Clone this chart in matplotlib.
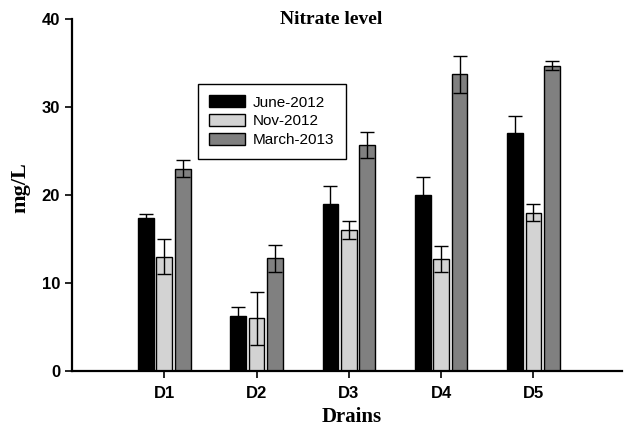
import numpy as np
import matplotlib
matplotlib.use('Agg')
import matplotlib.pyplot as plt

DRAINS = ['D1', 'D2', 'D3', 'D4', 'D5']
SERIES = ['June-2012', 'Nov-2012', 'March-2013']
june = [17.4, 6.3, 19.0, 20.0, 27.0]
june_err = [0.4, 1.0, 2.0, 2.0, 2.0]
nov = [13.0, 6.0, 16.0, 12.7, 18.0]
nov_err = [2.0, 3.0, 1.0, 1.5, 1.0]
march = [23.0, 12.8, 25.7, 33.7, 34.7]
march_err = [1.0, 1.5, 1.5, 2.1, 0.5]
COLORS = ['#000000', '#d3d3d3', '#808080']

fig = plt.figure(figsize=(6.25, 4.29), dpi=100)
ax = fig.add_axes([0.1152, 0.1352, 0.880, 0.8205])

x = np.arange(1, len(DRAINS) + 1)
w = 0.17
offs = [-0.2, 0.0, 0.2]
vals = [june, nov, march]
errs = [june_err, nov_err, march_err]
for i in range(3):
    ax.bar(x + offs[i], vals[i], w, color=COLORS[i], edgecolor='black',
           linewidth=1.0, label=SERIES[i], zorder=2)
    ax.errorbar(x + offs[i], vals[i], yerr=errs[i], fmt='none', ecolor='black',
                elinewidth=1.0, capsize=4.8, capthick=1.0, zorder=3)

ax.set_xlim(0, 5.96)
ax.set_ylim(0, 40)
ax.set_yticks([0, 10, 20, 30, 40])
ax.set_xticks(x)
ax.set_xticklabels(DRAINS)
for s in ['top', 'right']:
    ax.spines[s].set_visible(False)
for s in ['left', 'bottom']:
    ax.spines[s].set_linewidth(1.6)
ax.tick_params(axis='both', direction='out', length=5, width=1.2)
ax.tick_params(axis='x', pad=6)
for lab in ax.get_xticklabels() + ax.get_yticklabels():
    lab.set_fontfamily('Liberation Sans')
    lab.set_fontweight('bold')
    lab.set_fontsize(12)

ax.set_ylabel('mg/L', fontfamily='Liberation Serif', fontweight='bold', fontsize=16)
ax.yaxis.set_label_coords(-0.076, 0.52)
ax.set_xlabel('Drains', fontfamily='Liberation Serif', fontweight='bold', fontsize=15)
ax.xaxis.set_label_coords(0.509, -0.103)
fig.text(331 / 625, 1 - 20 / 429, 'Nitrate level', ha='center', va='center',
         fontfamily='Liberation Serif', fontweight='bold', fontsize=14)

leg = ax.legend(loc='upper left', bbox_to_anchor=((198 - 72) / 550, (371 - 84) / 352),
                prop={'family': 'Liberation Sans', 'size': 11}, fancybox=False,
                framealpha=1, edgecolor='black', handlelength=2.3, handleheight=0.8,
                labelspacing=0.3, borderpad=0.75, handletextpad=0.55, borderaxespad=0)
leg.get_frame().set_linewidth(1.0)

fig.savefig('out.png', dpi=100)
